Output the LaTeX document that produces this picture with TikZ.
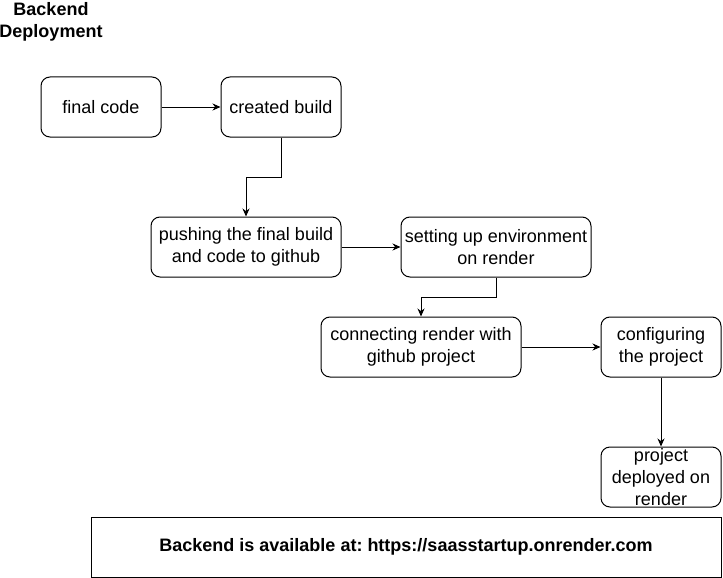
\documentclass[tikz,border=0pt]{standalone}
\usepackage{fontspec}
\setmainfont{Liberation Sans}
\usetikzlibrary{arrows.meta}
\frenchspacing
\tikzset{
  stepbox/.style={draw, line width=1pt, rounded corners=9pt, align=center, inner sep=0pt,
    minimum height=60pt, font=\fontsize{18}{21.6}\selectfont},
  link/.style={line width=1pt, -{Stealth[length=8pt,width=7pt]}}
}
\begin{document}
\begin{tikzpicture}[x=1pt, y=-1pt]
		%%%%% START %%%%%
		\useasboundingbox (0,0) rectangle (723,578);
		
		\node[align=center, font=\fontsize{18}{21.6}\selectfont\bfseries] (title) at (51,22) {Backend\\Deployment};
		
		\node[stepbox, minimum width=120pt] (code) at (101,107) {final code};
		\node[stepbox, minimum width=120pt] (build) at (281,107) {created build};
		\node[stepbox, minimum width=190pt] (push) at (246,247) {pushing the final build\\and code to github};
		\node[stepbox, minimum width=190pt] (env) at (496,247) {setting up environment\\on render};
		\node[stepbox, minimum width=200pt] (connect) at (421,347) {connecting render with\\github project};
		\node[stepbox, minimum width=120pt] (config) at (661,347) {configuring\\the project};
		\node[stepbox, minimum width=120pt] (deploy) at (661,477) {project\\deployed on\\render};
		
		\node[draw, line width=1pt, minimum width=630pt, minimum height=60pt, inner sep=0pt,
		  font=\fontsize{18}{21.6}\selectfont\bfseries] (url) at (406,547)
		  {Backend is available at: https://saasstartup.onrender.com};
		
		\draw[link] (code) -- (build);
		\draw[link] (build.south) -- ++(0,40) -| (push.north);
		\draw[link] (push) -- (env);
		\draw[link] (env.south) -- ++(0,20) -| (connect.north);
		\draw[link] (connect) -- (config);
		\draw[link] (config) -- (deploy);
		
		%%%%% END %%%%%
\end{tikzpicture}
\end{document}
